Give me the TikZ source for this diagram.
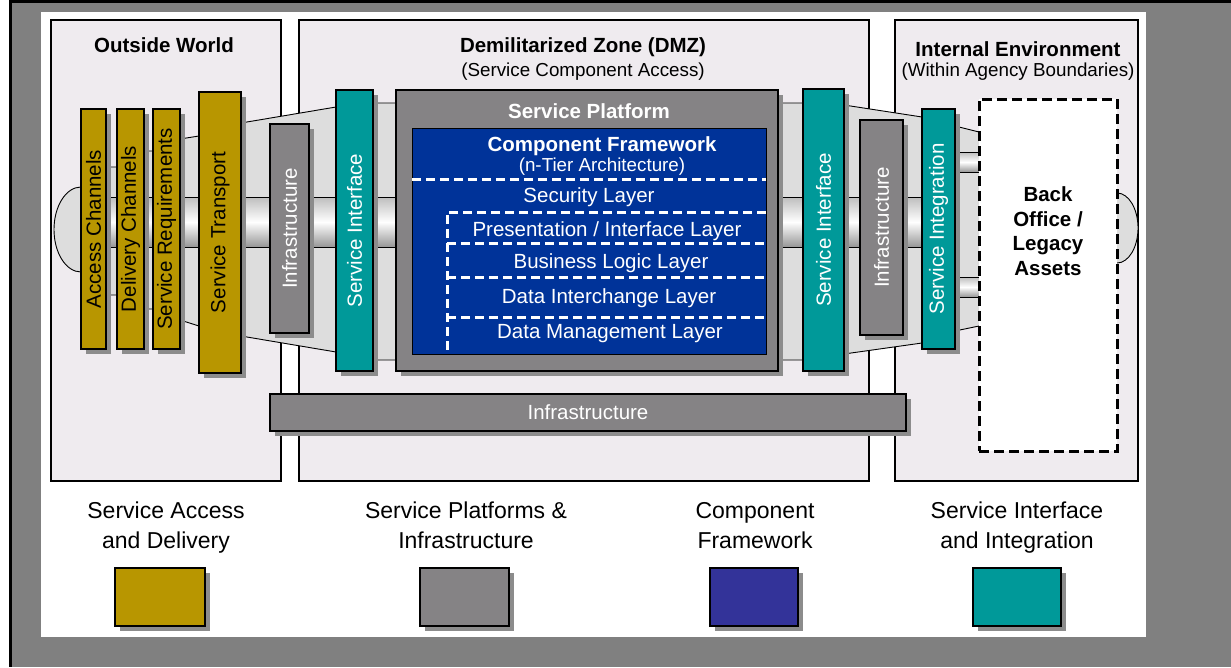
\documentclass[tikz,border=0pt]{standalone}
\usepackage{fontspec}
\setmainfont{Liberation Sans}
\usetikzlibrary{shadows}
\definecolor{cOlive}{RGB}{184,150,0}
\definecolor{cTeal}{RGB}{0,153,153}
\definecolor{cGray}{RGB}{133,131,133}
\definecolor{cBlue}{RGB}{0,51,153}
\definecolor{cLegBlue}{RGB}{51,51,153}
\definecolor{cPanel}{RGB}{239,235,239}
\definecolor{cFunnel}{RGB}{221,221,221}
\definecolor{cShadow}{RGB}{140,140,140}
\definecolor{cBg}{RGB}{128,128,128}
\definecolor{cTubeTop}{RGB}{190,190,190}
\definecolor{cTubeBot}{RGB}{150,150,150}
\begin{document}
\begin{tikzpicture}[x=1pt,y=-1pt,
  every node/.style={inner sep=0pt, outer sep=0pt},
  panel/.style={draw=black, line width=1.3pt, fill=cPanel, anchor=north west},
  box/.style={draw=black, line width=1.3pt, anchor=north west,
    drop shadow={shadow xshift=5pt, shadow yshift=-5pt, fill=cShadow, opacity=1}},
  vlab/.style={rotate=90, font=\fontsize{20.5}{24}\selectfont},
  lab/.style={font=\fontsize{20.5}{24}\selectfont, text=white, anchor=base},
  ttl/.style={font=\fontsize{20.5}{24}\selectfont\bfseries, anchor=base},
  subt/.style={font=\fontsize{18.8}{23}\selectfont, anchor=base},
  leg/.style={font=\fontsize{23}{28}\selectfont, anchor=base},
  wdash/.style={draw=white, line width=3pt, dash pattern=on 9pt off 5pt},
  outl/.style={draw=black, line width=0.9pt},
  tube/.style={top color=cTubeTop, bottom color=cTubeBot, middle color=white},
]
\useasboundingbox (0,0) rectangle (1231,667);
% frame
\fill[white] (0,0) rectangle (1231,667);
\fill[cBg] (11,3) rectangle (1231,667);
\fill[black] (9,0) rectangle (1231,3.3);
\fill[black] (9,0) rectangle (11.7,667);
\fill[white] (41,12) rectangle (1146,637);

% panels
\node[panel, minimum width=230pt, minimum height=461pt] (ow) at (51,20) {};
\node[panel, minimum width=570pt, minimum height=461pt] (dmz) at (299,20) {};
\node[panel, minimum width=243pt, minimum height=461pt] (ie) at (895,20) {};

\node[ttl] (owt) at (164,52) {Outside World};
\node[ttl] (dmzt) at (583,52) {Demilitarized Zone (DMZ)};
\node[subt] (dmzs) at (583,76) {(Service Component Access)};
\node[ttl] (iet) at (1018,56) {Internal Environment};
\node[subt] (ies) at (1018,76) {(Within Agency Boundaries)};

% funnel
\draw[outl, fill=cFunnel] (93,167) -- (130,167) -- (130,151) -- (166,151) -- (166,139)
  -- (180,139) -- (199,136) -- (220,136) -- (220,123) -- (241,123) -- (336,107)
  -- (355,107) -- (355,103) -- (823,103) -- (823,105) -- (844,105) -- (922,117)
  -- (938,117) -- (938,126) -- (955,126) -- (979,132) -- (1000,132)
  -- (1000,326) -- (979,326) -- (955,331) -- (938,331) -- (938,343) -- (922,343)
  -- (844,354) -- (823,354) -- (823,360) -- (355,360) -- (355,352) -- (336,352)
  -- (241,336) -- (220,336) -- (220,326) -- (199,326) -- (180,320) -- (166,320)
  -- (166,309) -- (130,309) -- (130,295) -- (93,295) -- cycle;
\draw[outl, fill=cFunnel] (88,187) -- (81,187)
  arc[start angle=270, end angle=90, x radius=27, y radius=42.5] -- (88,272);
\draw[outl, fill=cFunnel] (1110,193) -- (1117,193)
  arc[start angle=-90, end angle=90, x radius=21, y radius=35] -- (1110,263);

% tubes
\shade[tube] (95,197) rectangle (935,247);
\draw[outl] (95,197) -- (935,197) (95,247) -- (935,247);
\shade[tube] (945,152) rectangle (985,172);
\draw[outl] (945,152) -- (985,152) (945,172) -- (985,172);
\shade[tube] (945,277) rectangle (985,297);
\draw[outl] (945,277) -- (985,277) (945,297) -- (985,297);

% boxes
\node[box, fill=cOlive, minimum width=25pt, minimum height=240pt] (ac) at (81,109) {};
\node[box, fill=cOlive, minimum width=27pt, minimum height=240pt] (dc) at (117,109) {};
\node[box, fill=cOlive, minimum width=27pt, minimum height=240pt] (sr) at (153,109) {};
\node[box, fill=cOlive, minimum width=42pt, minimum height=281pt] (st) at (199,92) {};
\node[box, fill=cGray, minimum width=39pt, minimum height=209pt] (infl) at (270,124) {};
\node[box, fill=cTeal, minimum width=37pt, minimum height=281pt] (sil) at (336,90) {};
\node[box, fill=cGray, minimum width=382pt, minimum height=281pt] (sp) at (396,90) {};
\node[draw=black, line width=1pt, fill=cBlue, anchor=north west,
  minimum width=354pt, minimum height=226pt] (cf) at (412,128) {};
\node[box, fill=cTeal, minimum width=41pt, minimum height=282pt] (sir) at (803,89) {};
\node[box, fill=cGray, minimum width=43pt, minimum height=215pt] (infr) at (860,120) {};
\node[box, fill=cTeal, minimum width=33pt, minimum height=240pt] (sint) at (922,109) {};
\node[draw=black, line width=3pt, dash pattern=on 10pt off 5pt, fill=white,
  anchor=north west, minimum width=138pt, minimum height=352pt] (bo) at (979,99) {};
\node[box, fill=cGray, minimum width=636pt, minimum height=37pt] (infb) at (270,394) {};

% vertical labels
\node[vlab] (acl) at (ac.center) {Access Channels};
\node[vlab] (dcl) at (dc.center) {Delivery Channels};
\node[vlab] (srl) at (sr.center) {Service Requirements};
\node[vlab] (stl) at (st.center) {Service Transport};
\node[vlab, text=white] (infll) at (infl.center) {Infrastructure};
\node[vlab, text=white] (sill) at (sil.center) {Service Interface};
\node[vlab, text=white] (sirl) at (sir.center) {Service Interface};
\node[vlab, text=white] (infrl) at (infr.center) {Infrastructure};
\node[vlab, text=white] (sintl) at (sint.center) {Service Integration};
\node[lab, anchor=center] (infbl) at (infb.center) {Infrastructure};

\node[font=\fontsize{20.5}{24.5}\selectfont\bfseries, align=center] (bol) at (1048,231)
  {Back\\Office /\\Legacy\\Assets};

% service platform / component framework
\node[ttl, text=white] (spt) at (589,118) {Service Platform};
\node[ttl, text=white] (cft) at (602,151) {Component Framework};
\node[subt, text=white] (cfs) at (602,171) {(n-Tier Architecture)};
\draw[wdash] (412,179) -- (766,179);
\node[lab] (secl) at (589,202) {Security Layer};
\draw[wdash] (766,212) -- (447,212) -- (447,353);
\draw[wdash] (447,243) -- (766,243);
\draw[wdash] (447,277) -- (766,277);
\draw[wdash] (447,317) -- (766,317);
\node[lab] (pil) at (607,236) {Presentation / Interface Layer};
\node[lab] (bll) at (611,268) {Business Logic Layer};
\node[lab] (dil) at (609,303) {Data Interchange Layer};
\node[lab] (dml) at (610,338) {Data Management Layer};

% legend
\node[leg] (l1a) at (166,518) {Service Access};
\node[leg] (l1b) at (166,548) {and Delivery};
\node[leg] (l2a) at (466,518) {Service Platforms \&};
\node[leg] (l2b) at (466,548) {Infrastructure};
\node[leg] (l3a) at (755,518) {Component};
\node[leg] (l3b) at (755,548) {Framework};
\node[leg] (l4a) at (1017,518) {Service Interface};
\node[leg] (l4b) at (1017,548) {and Integration};
\node[box, fill=cOlive, minimum width=90pt, minimum height=58pt] (lg1) at (115,568) {};
\node[box, fill=cGray, minimum width=89pt, minimum height=58pt] (lg2) at (420,568) {};
\node[box, fill=cLegBlue, minimum width=88pt, minimum height=58pt] (lg3) at (710,568) {};
\node[box, fill=cTeal, minimum width=88pt, minimum height=58pt] (lg4) at (973,568) {};
\end{tikzpicture}
\end{document}
